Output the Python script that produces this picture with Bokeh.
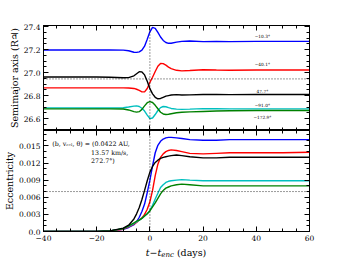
from bokeh.plotting import figure
from bokeh.layouts import column
from bokeh.models import (Range1d, FixedTicker, LinearAxis, Span, Label, Div,
                          ColumnDataSource, PrintfTickFormatter)
from bokeh.core.properties import value
from bokeh.embed import file_html
from bokeh.resources import INLINE

# ---------------- data ----------------
t = [-40, -30, -20, -15, -10, -8, -6, -5, -4, -3, -2, -1, 0, 1, 2, 3, 4, 5, 6, 7,
     8, 10, 12, 15, 20, 25, 30, 40, 50, 60]

a_blue = [27.197, 27.197, 27.198, 27.197, 27.196, 27.19, 27.177, 27.176, 27.18, 27.195,
          27.23, 27.29, 27.355, 27.393, 27.385, 27.35, 27.31, 27.28, 27.262, 27.255,
          27.256, 27.265, 27.272, 27.275, 27.27, 27.272, 27.27, 27.272, 27.272, 27.272]
a_red = [26.867, 26.867, 26.867, 26.867, 26.867, 26.866, 26.862, 26.855, 26.845, 26.832,
         26.832, 26.862, 26.915, 26.96, 27.01, 27.055, 27.08, 27.078, 27.065, 27.048,
         27.035, 27.02, 27.015, 27.018, 27.025, 27.022, 27.02, 27.023, 27.023, 27.023]
a_black = [26.962, 26.962, 26.962, 26.96, 26.955, 26.956, 26.972, 26.99, 27.008, 27.006,
           26.98, 26.925, 26.86, 26.815, 26.785, 26.772, 26.775, 26.785, 26.795, 26.80,
           26.805, 26.808, 26.805, 26.806, 26.81, 26.81, 26.808, 26.809, 26.809, 26.809]
a_cyan = [26.693, 26.693, 26.692, 26.692, 26.694, 26.70, 26.708, 26.71, 26.705, 26.69,
          26.665, 26.63, 26.60, 26.605, 26.635, 26.67, 26.695, 26.705, 26.703, 26.695,
          26.688, 26.682, 26.68, 26.682, 26.686, 26.685, 26.684, 26.684, 26.684, 26.684]
a_green = [26.684, 26.684, 26.684, 26.684, 26.683, 26.675, 26.66, 26.656, 26.66, 26.68,
           26.71, 26.738, 26.748, 26.74, 26.715, 26.685, 26.655, 26.64, 26.635, 26.638,
           26.642, 26.65, 26.655, 26.658, 26.662, 26.666, 26.668, 26.67, 26.67, 26.67]

e_blue = [0, 0, 0.00002, 0.0001, 0.0004, 0.0007, 0.0012, 0.0017, 0.0025, 0.0035,
          0.0048, 0.0068, 0.0090, 0.0115, 0.0138, 0.0151, 0.0158, 0.0162, 0.0164, 0.0165,
          0.0165, 0.0164, 0.0163, 0.0161, 0.0160, 0.0160, 0.0161, 0.0161, 0.0161, 0.0161]
e_red = [0, 0, 0.00002, 0.0001, 0.0004, 0.0008, 0.0013, 0.0016, 0.0020, 0.0024,
         0.0030, 0.0039, 0.0052, 0.0072, 0.0098, 0.0118, 0.0130, 0.0136, 0.0140, 0.0142,
         0.0143, 0.0142, 0.0140, 0.0137, 0.0136, 0.0137, 0.0138, 0.0138, 0.0138, 0.0139]
e_black = [0, 0, 0.00002, 0.0001, 0.0006, 0.0011, 0.0022, 0.0031, 0.0042, 0.0056,
           0.0072, 0.0089, 0.0104, 0.0114, 0.0121, 0.0125, 0.0128, 0.0130, 0.0131, 0.0132,
           0.0133, 0.0134, 0.0133, 0.0131, 0.0129, 0.0129, 0.0130, 0.0130, 0.0130, 0.0130]
e_cyan = [0, 0, 0.00002, 0.0001, 0.0005, 0.0009, 0.0014, 0.0017, 0.0020, 0.0023,
          0.0027, 0.0031, 0.0037, 0.0046, 0.0057, 0.0067, 0.0077, 0.0082, 0.0086, 0.0088,
          0.0089, 0.0090, 0.0091, 0.0090, 0.0089, 0.0089, 0.0089, 0.0089, 0.0089, 0.0089]
e_green = [0, 0, 0.00002, 0.0001, 0.0005, 0.0010, 0.0015, 0.0018, 0.0020, 0.0023,
           0.0027, 0.0031, 0.0036, 0.0043, 0.0050, 0.0058, 0.0066, 0.0072, 0.0076, 0.0078,
           0.0080, 0.0082, 0.0083, 0.0082, 0.0080, 0.0080, 0.0080, 0.0080, 0.0080, 0.0080]

angle_labels = ["\u221210.3\u00b0", "\u221240.1\u00b0", "47.7\u00b0", "\u221291.0\u00b0", "\u2212172.9\u00b0"]
a_ref = 26.945
e_ref = 0.007
t_enc = 0

x_ticks = [-40, -20, 0, 20, 40, 60]
a_ticks = [26.6, 26.8, 27.0, 27.2, 27.4]
e_ticks = [0.0, 0.003, 0.006, 0.009, 0.012, 0.015]

# ---------------- styling ----------------
FONT = "DejaVu Serif"
colors = ["#0000ff", "#ff0000", "#000000", "#00bfbf", "#008000"]

x_minor = [x for x in range(-40, 61, 5) if x not in x_ticks]
a_minor = [round(26.5 + 0.05 * k, 3) for k in range(0, 19)]
e_minor = [round(0.001 * k, 3) for k in range(0, 18)]


def style_axis(ax, show_labels):
    ax.major_tick_in = 5
    ax.major_tick_out = 0
    ax.minor_tick_in = 3
    ax.minor_tick_out = 0
    ax.axis_line_color = "black"
    ax.major_tick_line_color = "black"
    ax.minor_tick_line_color = "black"
    ax.major_label_text_font = FONT
    ax.axis_label_text_font = FONT
    ax.axis_label_text_font_style = "normal"
    ax.axis_label_text_font_size = "9.5px"
    ax.axis_label_text_color = "black"
    if show_labels:
        ax.major_label_text_font_size = "7.5px"
        ax.major_label_text_color = "black"
        ax.major_label_standoff = 4
    else:
        ax.major_label_text_font_size = "1px"
        ax.major_label_text_color = None
        ax.major_label_standoff = 0


xr = Range1d(-40, 60)

# ---------- top panel ----------
p1 = figure(frame_width=266, frame_height=105, x_range=xr, y_range=Range1d(26.496, 27.41),
            output_backend="svg", toolbar_location=None,
            min_border_left=43, min_border_right=20, min_border_top=25, min_border_bottom=0,
            x_axis_location="below")
p1.grid.visible = False
p1.outline_line_color = "black"
for ys, c in zip([a_blue, a_red, a_black, a_cyan, a_green], colors):
    p1.line(t, ys, line_color=c, line_width=1.4)

p1.add_layout(Span(location=a_ref, dimension="width", line_color="black",
                   line_dash="1 2", line_width=0.8))
p1.add_layout(Span(location=t_enc, dimension="height", line_color="black",
                   line_dash="1 2", line_width=0.8))

lab_src = ColumnDataSource(dict(x=[42.3] * 5, y=[27.316, 27.067, 26.835, 26.713, 26.611],
                                text=angle_labels))
p1.text(x="x", y="y", text="text", source=lab_src, text_font=value(FONT),
        text_font_size="4.3px", text_align="center", text_baseline="middle",
        text_color="black")

p1.yaxis.axis_label = "Semimajor axis (R\u2643)"
p1.yaxis.ticker = FixedTicker(ticks=a_ticks, minor_ticks=a_minor)
p1.yaxis.formatter = PrintfTickFormatter(format="%.1f")
style_axis(p1.yaxis[0], True)
p1.yaxis.axis_label_standoff = 1
p1.yaxis.major_label_standoff = 3
p1.xaxis.ticker = FixedTicker(ticks=x_ticks, minor_ticks=x_minor)
style_axis(p1.xaxis[0], False)

ax = LinearAxis(ticker=FixedTicker(ticks=a_ticks, minor_ticks=a_minor))
style_axis(ax, False)
p1.add_layout(ax, "right")
ax = LinearAxis(ticker=FixedTicker(ticks=x_ticks, minor_ticks=x_minor))
style_axis(ax, False)
p1.add_layout(ax, "above")

# ---------- bottom panel ----------
p2 = figure(frame_width=266, frame_height=101, x_range=xr, y_range=Range1d(0, 0.0177),
            output_backend="svg", toolbar_location=None,
            min_border_left=43, min_border_right=20, min_border_top=0, min_border_bottom=12)
p2.grid.visible = False
p2.outline_line_color = "black"
for ys, c in zip([e_blue, e_red, e_cyan, e_green, e_black], [colors[0], colors[1], colors[3], colors[4], colors[2]]):
    p2.line(t, ys, line_color=c, line_width=1.4)

p2.add_layout(Span(location=e_ref, dimension="width", line_color="black",
                   line_dash="1 2", line_width=0.8))
p2.add_layout(Span(location=t_enc, dimension="height", line_color="black",
                   line_dash="1 2", line_width=0.8))

p2.yaxis.axis_label = "Eccentricity"
p2.yaxis.ticker = FixedTicker(ticks=e_ticks, minor_ticks=e_minor)
p2.yaxis.formatter = PrintfTickFormatter(format="%.3f")
p2.yaxis.major_label_overrides = {0: "0.0"}
style_axis(p2.yaxis[0], True)
p2.yaxis.axis_label_standoff = 1
p2.yaxis.major_label_standoff = 3
p2.xaxis.ticker = FixedTicker(ticks=x_ticks, minor_ticks=x_minor)
p2.xaxis.major_label_overrides = {-40: "\u221240", -20: "\u221220", 0: "0", 20: "20", 40: "40", 60: "60"}
style_axis(p2.xaxis[0], True)
p2.xaxis.major_label_standoff = 3

ax = LinearAxis(ticker=FixedTicker(ticks=e_ticks, minor_ticks=e_minor))
style_axis(ax, False)
p2.add_layout(ax, "right")
ax = LinearAxis(ticker=FixedTicker(ticks=x_ticks, minor_ticks=x_minor))
style_axis(ax, False)
p2.add_layout(ax, "above")

# annotation text
for txt, x, y in [("(b, v\u1d63\u2091\u2097, \u03b8) = (0.0422 AU,", -36.7, 0.0154),
                  ("13.57 km/s,", -22.1, 0.01378),
                  ("272.7\u00b0)", -22.1, 0.01249)]:
    p2.add_layout(Label(x=x, y=y, text=txt, text_font=FONT, text_font_size="6.3px",
                        text_baseline="middle", text_align="left", text_color="black"))

# x-axis label (italic t - t_enc) as HTML below the bottom panel
xlabel = Div(text='<i>t</i>\u2212<i>t</i><sub style="font-size:7px;vertical-align:-1px;line-height:0"><i>enc</i></sub> (days)',
             width=266, height=13,
             styles={"margin-left": "43px", "text-align": "center",
                     "font-family": "DejaVu Serif", "font-size": "9.5px",
                     "line-height": "10px", "color": "black"})

layout = column(p1, p2, xlabel, spacing=0)
open("out.html", "w").write(file_html(layout, INLINE))
